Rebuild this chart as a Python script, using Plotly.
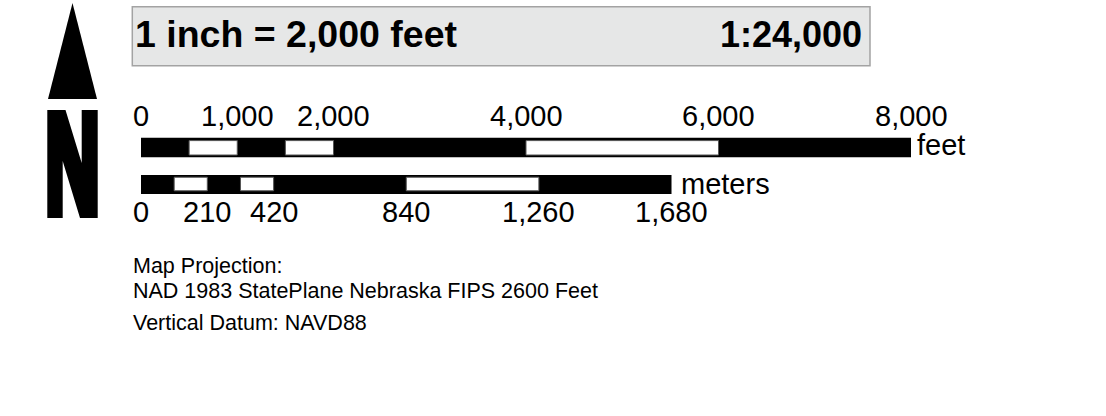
import plotly.graph_objects as go

W, H = 1106, 416
FT_PER_M = 3.28084

# ---- data: feet scale ----
feet_ticks = [0, 1000, 2000, 4000, 6000, 8000]
feet_tick_labels = ["0", "1,000", "2,000", "4,000", "6,000", "8,000"]
feet_white_start = [500, 1500, 4000]
feet_white_end = [1000, 2000, 6000]
feet_total = 8000

# ---- data: meters scale ----
meter_ticks = [0, 210, 420, 840, 1260, 1680]
meter_tick_labels = ["0", "210", "420", "840", "1,260", "1,680"]
meter_white_start = [105, 315, 840]
meter_white_end = [210, 420, 1260]
meter_total = 1680

title_left = "1 inch = 2,000 feet"
title_right = "1:24,000"
notes = ["Map Projection:", "NAD 1983 StatePlane Nebraska FIPS 2600 Feet", "Vertical Datum: NAVD88"]

# ---- layout geometry (screen pixels) ----
X0_PX = 141.0
PX_PER_FT = 770.0 / 8000.0


def X(px):
    """screen pixel column -> feet axis value"""
    return (px - X0_PX) / PX_PER_FT


FONT = "Liberation Sans, Arial, sans-serif"

fig = go.Figure()

# feet bar
fig.add_trace(go.Bar(orientation="h", base=[0], x=[feet_total], y=[147.5], width=[19.6],
                     marker=dict(color="black", line=dict(width=0)), hoverinfo="skip"))
fig.add_trace(go.Bar(orientation="h", base=feet_white_start,
                     x=[e - s for s, e in zip(feet_white_start, feet_white_end)],
                     y=[147.8] * len(feet_white_start), width=[14.4] * len(feet_white_start),
                     marker=dict(color="white", line=dict(color="#555555", width=1)), hoverinfo="skip"))

# meters bar (converted to feet for the shared axis)
fig.add_trace(go.Bar(orientation="h", base=[0], x=[meter_total * FT_PER_M], y=[184.5], width=[19.0],
                     marker=dict(color="black", line=dict(width=0)), hoverinfo="skip"))
fig.add_trace(go.Bar(orientation="h", base=[s * FT_PER_M for s in meter_white_start],
                     x=[(e - s) * FT_PER_M for s, e in zip(meter_white_start, meter_white_end)],
                     y=[184.0] * len(meter_white_start), width=[13.6] * len(meter_white_start),
                     marker=dict(color="white", line=dict(color="#555555", width=1)), hoverinfo="skip"))

ann = []
for v, t in zip(feet_ticks, feet_tick_labels):
    ann.append(dict(x=v, y=116, text=t, xref="x", yref="y", showarrow=False,
                    xanchor="center", yanchor="middle", font=dict(family=FONT, size=29, color="black")))
for v, t in zip(meter_ticks, meter_tick_labels):
    ann.append(dict(x=v * FT_PER_M, y=211.5, text=t, xref="x", yref="y", showarrow=False,
                    xanchor="center", yanchor="middle", font=dict(family=FONT, size=29, color="black")))
ann.append(dict(x=feet_total, y=145, text="feet", xref="x", yref="y", showarrow=False, xshift=4,
                xanchor="left", yanchor="middle", font=dict(family=FONT, size=29, color="black")))
ann.append(dict(x=meter_total * FT_PER_M, y=184, text="meters", xref="x", yref="y", showarrow=False, xshift=7,
                xanchor="left", yanchor="middle", font=dict(family=FONT, size=29, color="black")))

# title box texts
ann.append(dict(x=X(133), y=34, text="<b>%s</b>" % title_left, xref="x", yref="y", showarrow=False,
                xanchor="left", yanchor="middle", font=dict(family=FONT, size=37.5, color="black")))
ann.append(dict(x=X(864), y=34, text="<b>%s</b>" % title_right, xref="x", yref="y", showarrow=False,
                xanchor="right", yanchor="middle", font=dict(family=FONT, size=36, color="black")))

# notes
for t, yy in zip(notes, [266, 291, 323]):
    ann.append(dict(x=X(131), y=yy, text=t, xref="x", yref="y", showarrow=False,
                    xanchor="left", yanchor="middle", font=dict(family=FONT, size=21.5, color="black")))

shapes = []
# title box
shapes.append(dict(type="rect", xref="x", yref="y", x0=X(132.3), x1=X(870), y0=6.7, y1=65.7,
                   fillcolor="#e6e7e7", line=dict(color="#a3a3a3", width=1.5), layer="below"))
# north arrow triangle
shapes.append(dict(type="path", xref="x", yref="y",
                   path="M %f,99 L %f,99 L %f,3 Z" % (X(48), X(97), X(72.5)),
                   fillcolor="black", line=dict(width=0)))
# N glyph
npts = [(47.3, 110), (65.5, 110), (81.7, 163), (81.7, 110), (97.7, 110), (97.7, 218),
        (80.0, 218), (62.7, 161), (62.7, 218), (47.3, 218)]
npath = "M " + " L ".join("%f,%f" % (X(px), py) for px, py in npts) + " Z"
shapes.append(dict(type="path", xref="x", yref="y", path=npath, fillcolor="black", line=dict(width=0)))

fig.update_layout(
    width=W, height=H, margin=dict(l=0, r=0, t=0, b=0),
    paper_bgcolor="white", plot_bgcolor="white",
    barmode="overlay", showlegend=False, hovermode=False,
    xaxis=dict(range=[X(0), X(W)], visible=False, fixedrange=True),
    yaxis=dict(range=[H, 0], visible=False, fixedrange=True),
    annotations=ann, shapes=shapes,
)

fig.write_html("out.html", config={"displayModeBar": False},
               post_script="document.body.style.margin='0px';")
